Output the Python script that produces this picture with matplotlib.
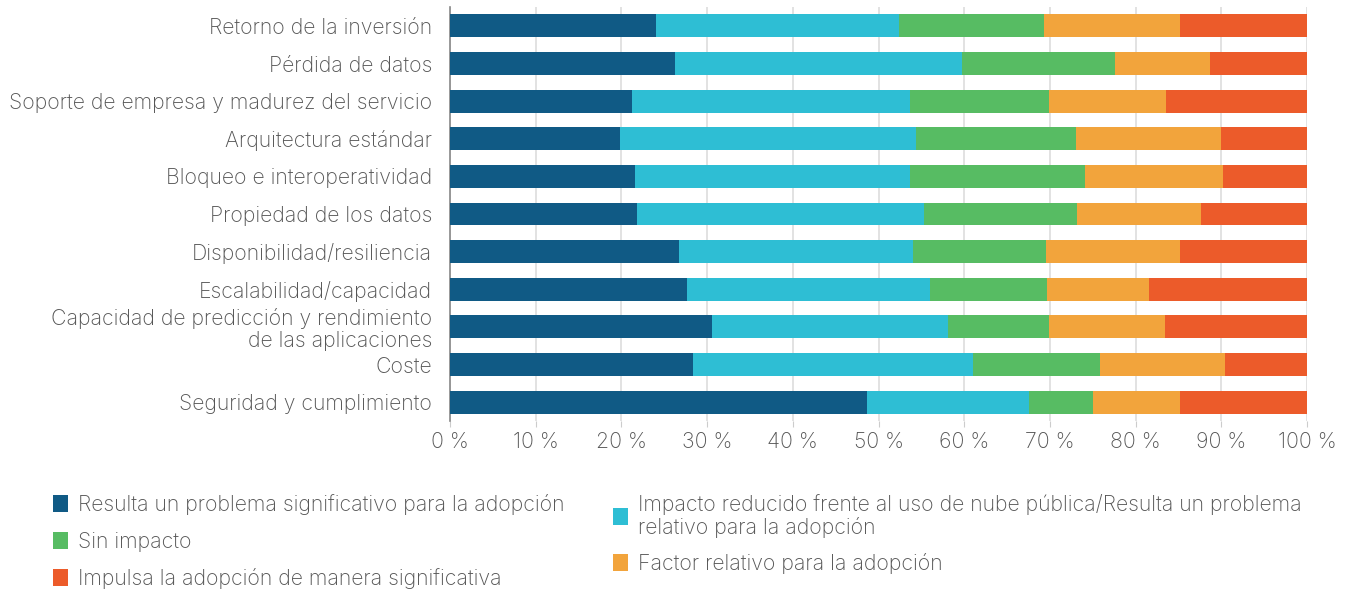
import matplotlib
matplotlib.use("Agg")
import matplotlib.pyplot as plt
import numpy as np

categories = [
    "Retorno de la inversión",
    "Pérdida de datos",
    "Soporte de empresa y madurez del servicio",
    "Arquitectura estándar",
    "Bloqueo e interoperatividad",
    "Propiedad de los datos",
    "Disponibilidad/resiliencia",
    "Escalabilidad/capacidad",
    "Capacidad de predicción y rendimiento\nde las aplicaciones",
    "Coste",
    "Seguridad y cumplimiento",
]

series_names = [
    "Resulta un problema significativo para la adopción",
    "Impacto reducido frente al uso de nube pública/Resulta un problema\nrelativo para la adopción",
    "Sin impacto",
    "Factor relativo para la adopción",
    "Impulsa la adopción de manera significativa",
]

problema_significativo = [24.0, 26.3, 21.2, 19.8, 21.6, 21.8, 26.7, 27.6, 30.6, 28.3, 48.7]
impacto_reducido = [28.4, 33.4, 32.5, 34.6, 32.1, 33.5, 27.3, 28.4, 27.5, 32.7, 18.9]
sin_impacto = [16.9, 17.9, 16.2, 18.7, 20.4, 17.9, 15.5, 13.7, 11.8, 14.9, 7.4]
factor_relativo = [15.9, 11.1, 13.7, 16.9, 16.1, 14.4, 15.7, 11.9, 13.5, 14.5, 10.2]
impulsa = [14.8, 11.3, 16.4, 10.0, 9.8, 12.4, 14.8, 18.4, 16.6, 9.6, 14.8]

xtick_values = [0, 10, 20, 30, 40, 50, 60, 70, 80, 90, 100]
xtick_labels = [f"{v} %" for v in xtick_values]

colors = ["#105A85", "#2EBED4", "#57BC63", "#F2A43C", "#EC5B2A"]

plt.rcParams['font.family'] = ['Inter', 'DejaVu Sans']
plt.rcParams['font.weight'] = 'light'
text_color = "#555555"
fs = 15.3

fig = plt.figure(figsize=(13.47, 5.90), dpi=100)
ax = fig.add_axes([450/1347, 1-421/590, (1307-450)/1347, (421-7)/590])

data = [problema_significativo, impacto_reducido, sin_impacto, factor_relativo, impulsa]
y = np.arange(len(categories))
left = np.zeros(len(categories))
handles = []
for vals, col, name in zip(data, colors, series_names):
    v = np.array(vals)
    b = ax.barh(y, v, left=left, height=0.61, color=col, edgecolor='none', zorder=3, label=name)
    handles.append(b)
    left += v

ax.set_ylim(len(categories) - 0.5, -0.5)
ax.set_xlim(0, 100)
ax.set_yticks(y)
ax.set_yticklabels(categories, fontsize=fs, color=text_color, ha='right', linespacing=1.12)
ax.set_xticks(xtick_values)
ax.set_xticklabels(xtick_labels, fontsize=fs, color=text_color)
ax.tick_params(axis='y', length=0, pad=13)
ax.tick_params(axis='x', length=4, color='#cccccc', pad=4)
ax.xaxis.grid(True, color='#dddddd', linewidth=1.2, zorder=0)
ax.set_axisbelow(True)
for s in ['top', 'right', 'bottom']:
    ax.spines[s].set_visible(False)
ax.spines['left'].set_color('#888888')
ax.spines['left'].set_linewidth(1.2)

leg_kw = dict(loc='upper left', ncol=1, frameon=False, fontsize=fs,
              handlelength=0.7, handleheight=0.85, handletextpad=0.5,
              borderaxespad=0, borderpad=0, labelcolor=text_color)
col1 = [0, 2, 4]
col2 = [1, 3]
leg1 = fig.legend([handles[i] for i in col1], [series_names[i] for i in col1],
                  bbox_to_anchor=(53/1347, 1 - 494/590), labelspacing=0.78, **leg_kw)
leg2 = fig.legend([handles[i] for i in col2], [series_names[i] for i in col2],
                  bbox_to_anchor=(613/1347, 1 - 494/590), labelspacing=0.7, **leg_kw)
for t in leg2.get_texts():
    t.set_linespacing(1.12)

fig.savefig("out.png", dpi=100)
